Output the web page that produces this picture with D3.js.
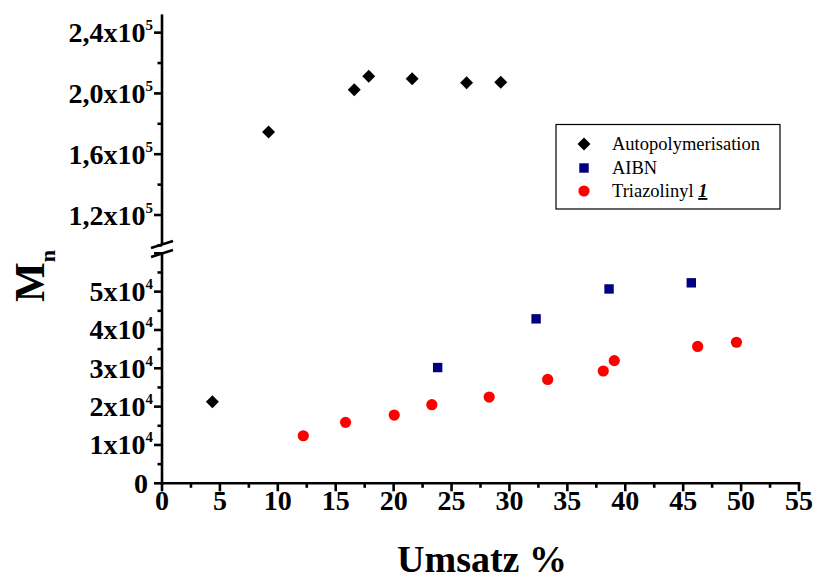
<!DOCTYPE html>
<html lang="en">
<head>
<meta charset="UTF-8">
<title>Mn vs Umsatz</title>
<script src="https://d3js.org/d3.v7.min.js"></script>
<style>
    body { margin: 0; background: #fff; }
    svg { display: block; font-family: "Liberation Serif", "Times New Roman", serif; }
</style>
</head>
<body>
<svg id="chart" width="816" height="579"></svg>
<script>
    // data
    const autoX = [4.35, 9.2, 16.6, 17.85, 21.6, 26.3, 29.25];
    const autoY = [21300, 174600, 202400, 211300, 209600, 207000, 207400];
    const aibnX = [23.8, 32.3, 38.6, 45.7];
    const aibnY = [30200, 42900, 50700, 52300];
    const triX = [12.2, 15.85, 20.05, 23.3, 28.25, 33.3, 38.1, 39.05, 46.25, 49.6];
    const triY = [12400, 15900, 17800, 20500, 22500, 27100, 29300, 32000, 35700, 36800];

    const xTicks = d3.range(0, 56, 5);
    const lowTicks = [0, 10000, 20000, 30000, 40000, 50000];
    const lowLabels = ["0", "1x10|4", "2x10|4", "3x10|4", "4x10|4", "5x10|4"];
    const upTicks = [120000, 160000, 200000, 240000];
    const upLabels = ["1,2x10|5", "1,6x10|5", "2,0x10|5", "2,4x10|5"];

    const legendNames = ["Autopolymerisation", "AIBN", "Triazolinyl"];

    const svg = d3.select("#chart");

    const x = d3.scaleLinear().domain([0, 55]).range([162, 799]);
    const yLow = d3.scaleLinear().domain([0, 60000]).range([483.3, 253.3]);
    const yUp = d3.scaleLinear().domain([100000, 252000]).range([245.4, 14.4]);
    // pick the right segment of the broken axis
    const yAny = v => v >= 80000 ? yUp(v) : yLow(v);

    const ax = svg.append("g").attr("stroke", "#000").attr("stroke-width", 2.6).attr("fill", "none");

    // x axis
    ax.append("line").attr("x1", x(0) - 1.3).attr("x2", x(55) + 1.3)
        .attr("y1", yLow(0)).attr("y2", yLow(0));
    d3.range(0, 55.1, 2.5).forEach(v => {
        const major = v % 5 === 0;
        ax.append("line").attr("x1", x(v)).attr("x2", x(v))
            .attr("y1", yLow(0)).attr("y2", yLow(0) + (major ? 8 : 4.5));
    });

    // y axis, two segments with a break
    ax.append("line").attr("x1", x(0)).attr("x2", x(0))
        .attr("y1", yLow(0) + 1.3).attr("y2", 253);
    ax.append("line").attr("x1", x(0)).attr("x2", x(0))
        .attr("y1", 244).attr("y2", yUp(252000));
    d3.range(0, 60001, 5000).forEach(v => {
        const major = v % 10000 === 0;
        ax.append("line").attr("x1", x(0)).attr("x2", x(0) - (major ? 8 : 4.5))
            .attr("y1", yLow(v)).attr("y2", yLow(v));
    });
    d3.range(100000, 252001, 20000).forEach(v => {
        const major = v % 40000 === 0;
        ax.append("line").attr("x1", x(0)).attr("x2", x(0) - (major ? 8 : 4.5))
            .attr("y1", yUp(v)).attr("y2", yUp(v));
    });
    // break marks
    [244, 253].forEach(b => {
        ax.append("line").attr("x1", x(0) - 11).attr("x2", x(0) + 11)
            .attr("y1", b + 4).attr("y2", b - 3);
    });

    // tick labels
    const lab = svg.append("g").attr("font-weight", "bold").attr("fill", "#000");
    xTicks.forEach(v => {
        lab.append("text").attr("x", x(v)).attr("y", 510)
            .attr("text-anchor", "middle").attr("font-size", 28).text(v);
    });

    function yLabel(yPos, s) {
        const [base, exp] = s.split("|");
        const t = lab.append("text").attr("x", exp ? 153 : 148).attr("y", yPos + 9.5)
            .attr("text-anchor", "end").attr("font-size", 28);
        t.append("tspan").text(base);
        if (exp) t.append("tspan").attr("font-size", 15).attr("dy", -12).text(exp);
    }
    lowTicks.forEach((v, i) => yLabel(yLow(v), lowLabels[i]));
    upTicks.forEach((v, i) => yLabel(yUp(v), upLabels[i]));

    // axis titles
    lab.append("text").attr("x", 482).attr("y", 572).attr("text-anchor", "middle")
        .attr("font-size", 38).text("Umsatz %");
    const yt = lab.append("text").attr("transform", "translate(44,276) rotate(-90)")
        .attr("text-anchor", "middle").attr("font-size", 42);
    yt.append("tspan").text("M");
    yt.append("tspan").attr("font-size", 22).attr("dy", 11).text("n");

    // markers
    const diamond = d3.symbol().type(d3.symbolSquare).size(84);
    const marks = svg.append("g");
    marks.selectAll(".auto").data(d3.zip(autoX, autoY)).join("path")
        .attr("d", diamond)
        .attr("transform", d => `translate(${x(d[0])},${yAny(d[1])}) rotate(45)`)
        .attr("fill", "#000");
    marks.selectAll(".aibn").data(d3.zip(aibnX, aibnY)).join("rect")
        .attr("x", d => x(d[0]) - 4.7).attr("y", d => yAny(d[1]) - 4.7)
        .attr("width", 9.4).attr("height", 9.4).attr("fill", "#000080");
    marks.selectAll(".tri").data(d3.zip(triX, triY)).join("circle")
        .attr("cx", d => x(d[0])).attr("cy", d => yAny(d[1]))
        .attr("r", 5.6).attr("fill", "#ff0000");

    // legend
    const lg = svg.append("g");
    lg.append("rect").attr("x", 556).attr("y", 124.5).attr("width", 224).attr("height", 84.5)
        .attr("fill", "#fff").attr("stroke", "#000").attr("stroke-width", 1.2);
    const rows = [144, 168, 191];
    lg.append("path").attr("d", diamond)
        .attr("transform", `translate(584,${rows[0]}) rotate(45)`).attr("fill", "#000");
    lg.append("rect").attr("x", 584 - 4.7).attr("y", rows[1] - 4.7)
        .attr("width", 9.4).attr("height", 9.4).attr("fill", "#000080");
    lg.append("circle").attr("cx", 584).attr("cy", rows[2]).attr("r", 5.6).attr("fill", "#ff0000");
    legendNames.forEach((n, i) => {
        const t = lg.append("text").attr("x", 612).attr("y", rows[i] + 6)
            .attr("font-size", 18.5).text(n);
        if (i === 2) {
            t.append("tspan").text(" ");
            t.append("tspan").attr("font-weight", "bold").attr("font-style", "italic")
                .attr("text-decoration", "underline").text("1");
        }
    });
</script>
</body>
</html>
